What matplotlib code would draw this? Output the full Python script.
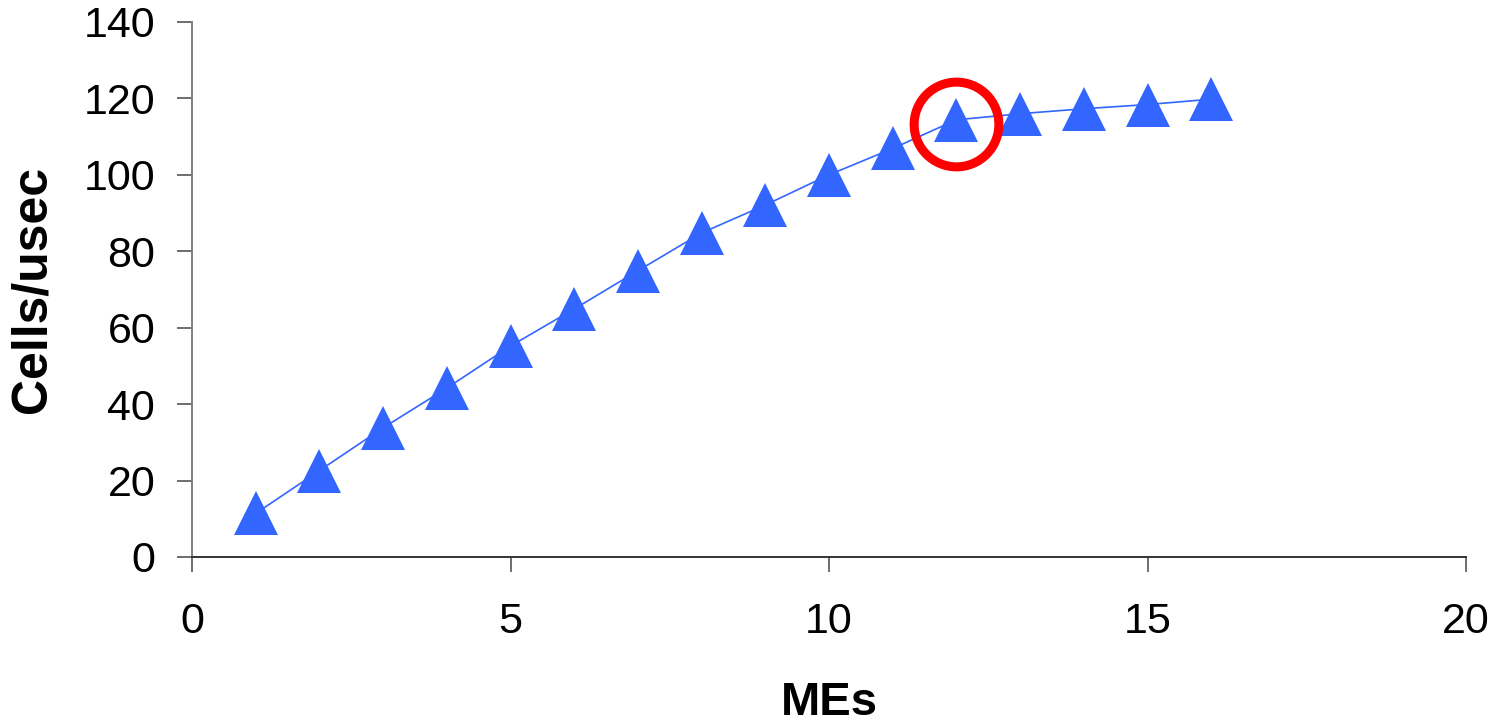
import numpy as np
import matplotlib
matplotlib.use("Agg")
import matplotlib.pyplot as plt

plt.rcParams['font.family'] = ['Liberation Sans', 'DejaVu Sans']

# data
mes = [1, 2, 3, 4, 5, 6, 7, 8, 9, 10, 11, 12, 13, 14, 15, 16]
cells = [11.4, 22.6, 33.8, 44.2, 55.2, 64.9, 74.9, 84.8, 92.1, 100.0,
         106.9, 114.4, 116.0, 117.3, 118.4, 119.8]
highlight = 12  # the point circled in red

xticks = [0, 5, 10, 15, 20]
yticks = [0, 20, 40, 60, 80, 100, 120, 140]

fig = plt.figure(figsize=(14.9, 7.28), dpi=100)
ax = fig.add_axes([192/1490, 1-557/728, (1466-192)/1490, (557-22)/728])

blue = '#3366FF'
ax.plot(mes, cells, color=blue, lw=1.2, zorder=2)
ax.plot(mes, cells, '^', color=blue, ms=31, mec=blue, mew=0, zorder=3, clip_on=False)

i = mes.index(highlight)
ax.plot(mes[i], cells[i] - 1, 'o', mfc='none', mec='#FF0000', ms=61, mew=6.5, zorder=4)

ax.set_xlim(0, 20)
ax.set_ylim(0, 140)
ax.set_xticks(xticks)
ax.set_yticks(yticks)

for s in ['top', 'right']:
    ax.spines[s].set_visible(False)
ax.spines['left'].set_color('#808080')
ax.spines['left'].set_linewidth(1.4)
ax.spines['bottom'].set_color('#333333')
ax.spines['bottom'].set_linewidth(1.4)

ax.tick_params(axis='y', direction='out', length=10.5, width=1.2, color='#555555',
               labelsize=31, pad=16)
ax.tick_params(axis='x', direction='out', length=10.5, width=1.2, color='#555555',
               labelsize=31, pad=22)

ax.set_xlabel('MEs', fontsize=34, fontweight='bold', labelpad=28)
ax.set_ylabel('Cells/usec', fontsize=36, fontweight='bold', labelpad=20)

fig.savefig('out.png', dpi=100)
